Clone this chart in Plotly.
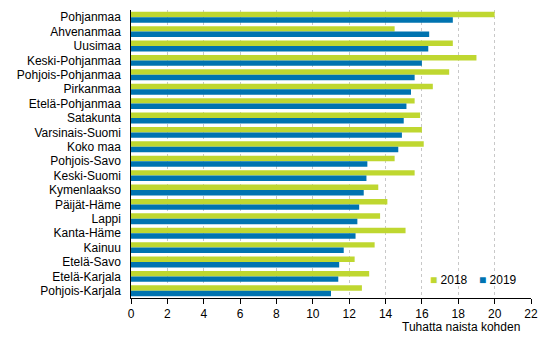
import plotly.graph_objects as go

regions = ["Pohjanmaa", "Ahvenanmaa", "Uusimaa", "Keski-Pohjanmaa", "Pohjois-Pohjanmaa",
           "Pirkanmaa", "Etelä-Pohjanmaa", "Satakunta", "Varsinais-Suomi", "Koko maa",
           "Pohjois-Savo", "Keski-Suomi", "Kymenlaakso", "Päijät-Häme", "Lappi",
           "Kanta-Häme", "Kainuu", "Etelä-Savo", "Etelä-Karjala", "Pohjois-Karjala"]
values_2018 = [20.0, 14.5, 17.7, 19.0, 17.5, 16.6, 15.6, 15.9, 16.0, 16.1,
               14.5, 15.6, 13.6, 14.1, 13.7, 15.1, 13.4, 12.3, 13.1, 12.7]
values_2019 = [17.7, 16.4, 16.35, 16.0, 15.6, 15.4, 15.15, 15.0, 14.9, 14.7,
               13.0, 12.95, 12.8, 12.55, 12.45, 12.35, 11.7, 11.45, 11.4, 11.0]
series_names = ["2018", "2019"]
x_ticks = list(range(0, 23, 2))

green = "#bfd730"
blue = "#0073b0"
colors = [green, blue]

fig = go.Figure()
for name, vals, col in zip(series_names, [values_2018, values_2019], colors):
    fig.add_trace(go.Bar(y=regions, x=vals, name=name, orientation="h", showlegend=False,
                         marker=dict(color=col, line=dict(width=0))))

# compact legend drawn as annotations (small square + label)
legend_x = [0.7425, 0.865]
annotations = []
for name, col, lx in zip(series_names, colors, legend_x):
    annotations.append(dict(
        text=f"<span style='color:{col}'>■</span> {name}", xref="paper", yref="paper",
        x=lx, y=0.0625, xanchor="left", yanchor="middle", showarrow=False,
        font=dict(size=12)))
annotations.append(dict(text="Tuhatta naista kohden", xref="paper", yref="paper",
                        x=0.9775, y=-0.07, xanchor="right", yanchor="top",
                        showarrow=False, font=dict(size=12)))

fig.update_layout(
    width=555, height=344,
    margin=dict(l=131, r=24, t=10, b=46),
    barmode="group", bargap=0.24, bargroupgap=0,
    plot_bgcolor="white", paper_bgcolor="white",
    font=dict(family="Liberation Sans, Arial, sans-serif", size=12, color="#000000"),
    showlegend=False,
    xaxis=dict(range=[0, 22], tickvals=x_ticks, showgrid=True, gridcolor="#c8c8c8",
               griddash="dot", gridwidth=1, zeroline=False, showline=True,
               linecolor="#000000", linewidth=1, ticks="outside", ticklen=5,
               tickcolor="#000000", tickfont=dict(size=12)),
    yaxis=dict(autorange="reversed", showline=True, linecolor="#000000", linewidth=1,
               ticks="", tickfont=dict(size=12), ticksuffix="  "),
    annotations=annotations,
)

fig.write_html("out.html")
